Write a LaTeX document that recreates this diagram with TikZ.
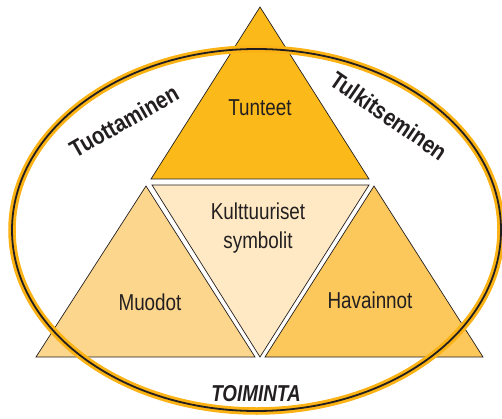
\documentclass[tikz,border=0pt]{standalone}
\usepackage{fontspec}
\setmainfont{Liberation Sans}
\newfontfamily\condreg[FakeStretch=0.82]{Liberation Sans}
\newfontfamily\condbold[FakeStretch=0.85]{Liberation Sans Bold}
\newfontfamily\condbi[FakeStretch=0.82]{Liberation Sans Bold Italic}
\definecolor{topc}{RGB}{252,186,26}
\definecolor{leftc}{RGB}{253,214,142}
\definecolor{rightc}{RGB}{252,200,92}
\definecolor{midc}{RGB}{254,233,196}
\definecolor{ringc}{RGB}{250,178,20}
\definecolor{txt}{RGB}{35,31,32}
\tikzset{
  tri/.style={draw=txt, line width=0.7pt, line join=miter},
  lbl/.style={text=txt, font=\condreg\fontsize{23}{29}\selectfont, align=center, inner sep=0pt},
  blbl/.style={text=txt, font=\condbold\fontsize{24}{28}\selectfont, inner sep=0pt},
}
\begin{document}
\begin{tikzpicture}[x=1pt,y=-1pt]
\useasboundingbox (0,0) rectangle (502,419);
% triangles
\draw[tri, fill=topc] (260,7) -- (369,179) -- (151,179) -- cycle;
\draw[tri, fill=leftc] (146,186) -- (255,357) -- (36,357) -- cycle;
\draw[tri, fill=rightc] (374,186) -- (483,357) -- (265,357) -- cycle;
\draw[tri, fill=midc] (152,185) -- (369,185) -- (260,357) -- cycle;
% ring
\draw[ringc, line width=7.5pt] (256.5,230) ellipse [x radius=244.5, y radius=181];
\draw[txt, line width=1.8pt] (256.5,230) ellipse [x radius=244.5, y radius=181];
% labels
\node[lbl] (tunteet) at (260,108) {Tunteet};
\node[lbl] (kult) at (258,228) {Kulttuuriset\\symbolit};
\node[lbl] (muodot) at (150,302) {Muodot};
\node[lbl] (hav) at (370,300) {Havainnot};
\node[blbl, rotate=29.6] (tuot) at (124,121) {Tuottaminen};
\node[blbl, rotate=-34.5] (tulk) at (389,116) {Tulkitseminen};
\node[lbl, font=\condbi\fontsize{23}{28}\selectfont] (toim) at (256,394) {TOIMINTA};
\end{tikzpicture}
\end{document}
